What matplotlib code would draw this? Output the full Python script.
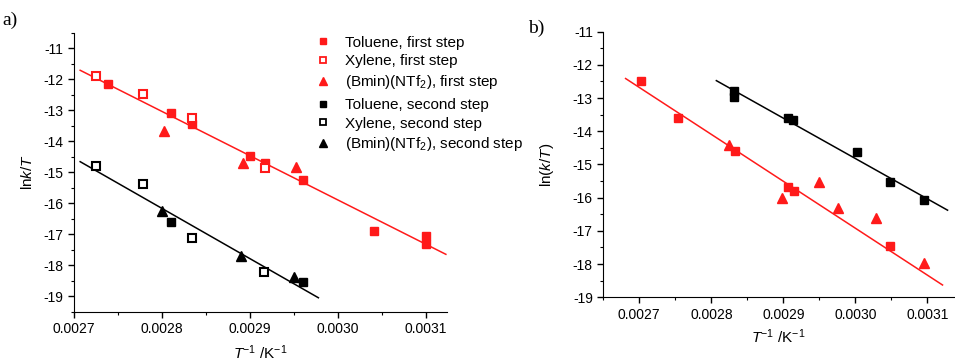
import numpy as np
import matplotlib.pyplot as plt
from matplotlib.lines import Line2D
from matplotlib.ticker import MultipleLocator

plt.rcParams['font.family'] = ['Liberation Sans', 'DejaVu Sans']
plt.rcParams['mathtext.fontset'] = 'custom'
plt.rcParams['mathtext.rm'] = 'Liberation Sans'
plt.rcParams['mathtext.it'] = 'Liberation Sans:italic'
plt.rcParams['axes.unicode_minus'] = False

# ---- panel a data (ln k/T vs 1/T) ----
tol1_x = [0.002739, 0.002810, 0.002834, 0.002900, 0.002917, 0.002961, 0.003041, 0.003100, 0.003100]
tol1_y = [-12.15, -13.08, -13.45, -14.47, -14.70, -15.24, -16.90, -17.04, -17.33]
xyl1_x = [0.002725, 0.002779, 0.002834, 0.002917]
xyl1_y = [-11.88, -12.47, -13.26, -14.86]
bmi1_x = [0.002802, 0.002892, 0.002953]
bmi1_y = [-13.65, -14.70, -14.83]

tol2_x = [0.002810, 0.002960]
tol2_y = [-16.60, -18.55]
xyl2_x = [0.002725, 0.002778, 0.002834, 0.002916]
xyl2_y = [-14.78, -15.38, -17.12, -18.22]
bmi2_x = [0.002800, 0.002890, 0.002950]
bmi2_y = [-16.25, -17.70, -18.38]

# x ranges of the fitted lines
fit1_a = [0.002707, 0.003123]
fit2_a = [0.002707, 0.002978]

# ---- panel b data ----
bsq_red_x = [0.002702, 0.002754, 0.002833, 0.002907, 0.002915, 0.003048]
bsq_red_y = [-12.49, -13.61, -14.58, -15.68, -15.80, -17.47]
btri_red_x = [0.002825, 0.002898, 0.002950, 0.002976, 0.003029, 0.003095]
btri_red_y = [-14.42, -16.00, -15.53, -16.32, -16.62, -17.97]
bsq_blk_x = [0.002832, 0.002832, 0.002906, 0.002913, 0.003002, 0.003048, 0.003095]
bsq_blk_y = [-12.78, -12.96, -13.59, -13.67, -14.62, -15.53, -16.07]

fit_red_b = [0.002681, 0.003121]
fit_blk_b = [0.002807, 0.003128]

xticks = [0.0027, 0.0028, 0.0029, 0.0030, 0.0031]
yticks = [-11, -12, -13, -14, -15, -16, -17, -18, -19]

RED = '#ff1a1a'


def fit_line(ax, xs, ys, xr, color):
    k, b = np.polyfit(xs, ys, 1)
    xr = np.array(xr)
    ax.plot(xr, k * xr + b, color=color, lw=1.1, zorder=1)


def style_axis(ax):
    for s in ['top', 'right']:
        ax.spines[s].set_visible(False)
    ax.set_xticks(xticks)
    ax.set_xticklabels(['%.4f' % v for v in xticks])
    ax.set_yticks(yticks)
    ax.xaxis.set_minor_locator(MultipleLocator(0.00005))
    ax.yaxis.set_minor_locator(MultipleLocator(0.5))
    ax.tick_params(which='major', direction='out', length=4, width=1, labelsize=10)
    ax.tick_params(which='minor', direction='out', length=2, width=0.8)


fig = plt.figure(figsize=(9.55, 3.61), dpi=100)
ax1 = fig.add_axes([0.0775, 0.1366, 0.3903, 0.772])
ax2 = fig.add_axes([0.6317, 0.1765, 0.3673, 0.7357])

ms = 6.3
# panel a
fit_line(ax1, tol1_x + xyl1_x + bmi1_x, tol1_y + xyl1_y + bmi1_y, fit1_a, RED)
fit_line(ax1, tol2_x + xyl2_x + bmi2_x, tol2_y + xyl2_y + bmi2_y, fit2_a, 'black')
ax1.plot(tol1_x, tol1_y, 's', color=RED, ms=ms, zorder=3)
ax1.plot(xyl1_x, xyl1_y, 's', mfc='white', mec=RED, mew=1.5, ms=ms, zorder=3)
ax1.plot(bmi1_x, bmi1_y, '^', color=RED, ms=ms + 1, zorder=3)
ax1.plot(tol2_x, tol2_y, 's', color='black', ms=ms, zorder=3)
ax1.plot(xyl2_x, xyl2_y, 's', mfc='white', mec='black', mew=1.5, ms=ms, zorder=3)
ax1.plot(bmi2_x, bmi2_y, '^', color='black', ms=ms + 1, zorder=3)

ax1.set_xlim(0.0027, 0.003124)
ax1.set_ylim(-19.5, -10.5)
style_axis(ax1)
ax1.set_ylabel(r'ln$\it{k}$/$\it{T}$', fontsize=11, labelpad=6)
ax1.set_xlabel(r'$\it{T}$$^{-1}$ /K$^{-1}$', fontsize=11, labelpad=5)

lms = 4.5
h1 = [Line2D([], [], ls='', marker='s', color=RED, ms=lms),
      Line2D([], [], ls='', marker='s', mfc='white', mec=RED, mew=1.3, ms=lms),
      Line2D([], [], ls='', marker='^', color=RED, ms=lms + 1)]
h2 = [Line2D([], [], ls='', marker='s', color='black', ms=lms),
      Line2D([], [], ls='', marker='s', mfc='white', mec='black', mew=1.3, ms=lms),
      Line2D([], [], ls='', marker='^', color='black', ms=lms + 1)]
l1 = ['Toluene, first step', 'Xylene, first step', r'(Bmin)(NTf$_2$), first step']
l2 = ['Toluene, second step', 'Xylene, second step', r'(Bmin)(NTf$_2$), second step']
kw = dict(frameon=False, loc='upper left', fontsize=11, handlelength=1.0,
          handletextpad=0.9, labelspacing=0.3, borderpad=0, borderaxespad=0)
leg1 = ax1.legend(h1, l1, bbox_to_anchor=(0.648, 0.99), **kw)
ax1.add_artist(leg1)
ax1.legend(h2, l2, bbox_to_anchor=(0.648, 0.767), **kw)

# panel b (red line fitted to the squares)
fit_line(ax2, bsq_red_x, bsq_red_y, fit_red_b, RED)
fit_line(ax2, bsq_blk_x, bsq_blk_y, fit_blk_b, 'black')
ax2.plot(bsq_red_x, bsq_red_y, 's', color=RED, ms=ms, zorder=3)
ax2.plot(btri_red_x, btri_red_y, '^', color=RED, ms=ms + 1, zorder=3)
ax2.plot(bsq_blk_x, bsq_blk_y, 's', color='black', ms=ms, zorder=3)

ax2.set_xlim(0.00265, 0.003137)
ax2.set_ylim(-19, -11)
style_axis(ax2)
ax2.set_ylabel(r'ln($\it{k}$/$\it{T}$)', fontsize=11, labelpad=12)
ax2.set_xlabel(r'$\it{T}$$^{-1}$ /K$^{-1}$', fontsize=11, labelpad=4)

fig.text(0.003, 0.93, 'a)', fontsize=14, family='Liberation Serif')
fig.text(0.553, 0.91, 'b)', fontsize=14, family='Liberation Serif')

fig.savefig('out.png', dpi=100)
